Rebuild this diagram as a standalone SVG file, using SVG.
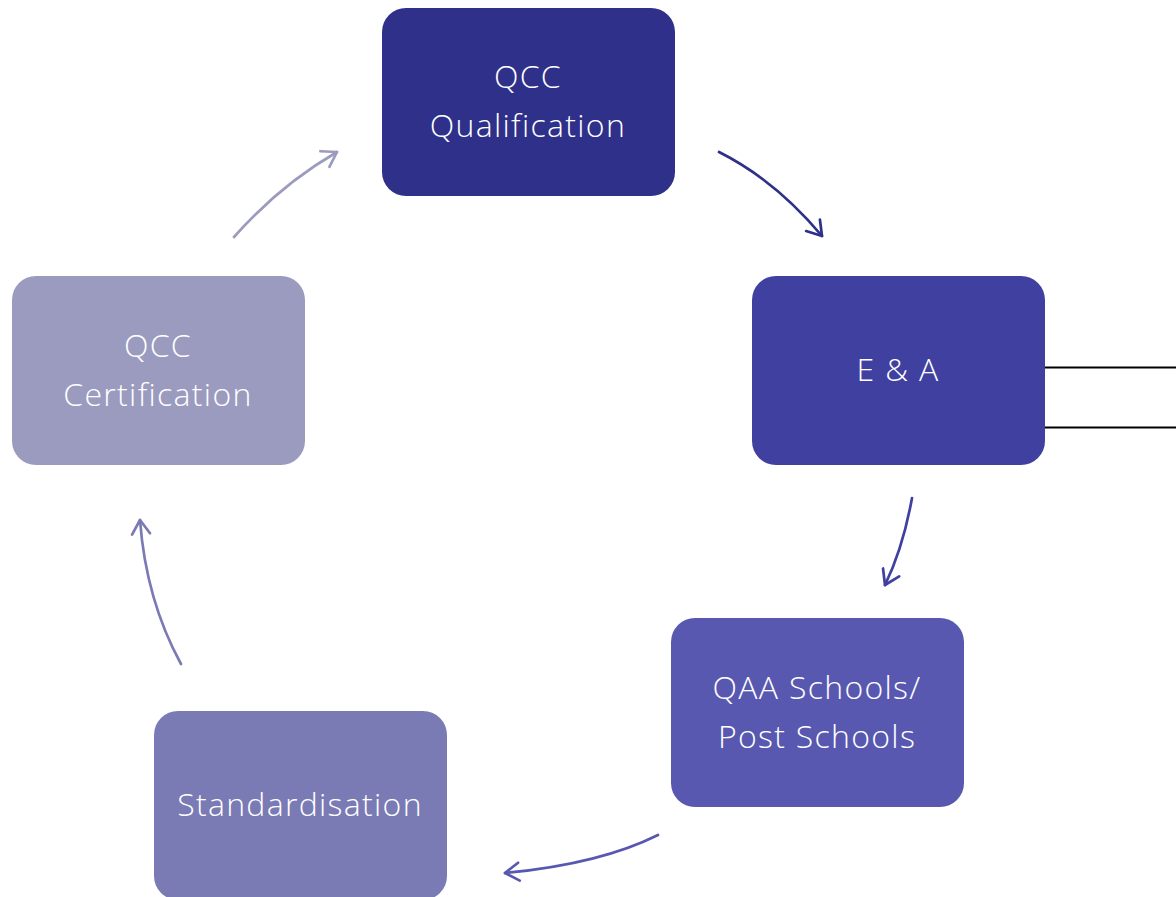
<svg xmlns="http://www.w3.org/2000/svg" width="1176" height="897" viewBox="0 0 1176 897">
  <style>
    .box { stroke: none; }
    .label { font-family: "Open Sans", "DejaVu Sans", sans-serif; font-size: 32px; font-weight: 300; letter-spacing: 1.3px; fill: #ffffff; text-anchor: middle; }
    .arc { fill: none; stroke-width: 2.7; stroke-linecap: round; }
    .head { fill: none; stroke-width: 2.7; stroke-linecap: round; stroke-linejoin: round; }
  </style>
  <defs>
    <marker id="h1" markerUnits="userSpaceOnUse" markerWidth="30" markerHeight="30" viewBox="-20 -15 30 30" refX="0" refY="0" orient="auto"><path class="head" stroke="#2E3089" d="M-14,-9 L0,0 L-14,9"/></marker>
    <marker id="h2" markerUnits="userSpaceOnUse" markerWidth="30" markerHeight="30" viewBox="-20 -15 30 30" refX="0" refY="0" orient="auto"><path class="head" stroke="#3F40A0" d="M-14,-9 L0,0 L-14,9"/></marker>
    <marker id="h3" markerUnits="userSpaceOnUse" markerWidth="30" markerHeight="30" viewBox="-20 -15 30 30" refX="0" refY="0" orient="auto"><path class="head" stroke="#5858B0" d="M-14,-9 L0,0 L-14,9"/></marker>
    <marker id="h4" markerUnits="userSpaceOnUse" markerWidth="30" markerHeight="30" viewBox="-20 -15 30 30" refX="0" refY="0" orient="auto"><path class="head" stroke="#7A7AB5" d="M-14,-9 L0,0 L-14,9"/></marker>
    <marker id="h5" markerUnits="userSpaceOnUse" markerWidth="30" markerHeight="30" viewBox="-20 -15 30 30" refX="0" refY="0" orient="auto"><path class="head" stroke="#9B9BBF" d="M-14,-9 L0,0 L-14,9"/></marker>
  </defs>
  <rect width="1176" height="897" fill="#ffffff"/>

  <g id="connectors">
    <path class="arc" stroke="#2E3089" d="M719,152 Q775,180 822,236" marker-end="url(#h1)"/>
    <path class="arc" stroke="#3F40A0" d="M912,498 Q903,548 885,585" marker-end="url(#h2)"/>
    <path class="arc" stroke="#5858B0" d="M658,835 Q600,864 505,873" marker-end="url(#h3)"/>
    <path class="arc" stroke="#7A7AB5" d="M181,664 Q146,600 140,520" marker-end="url(#h4)"/>
    <path class="arc" stroke="#9B9BBF" d="M234,237 Q280,185 337,152" marker-end="url(#h5)"/>
    <line x1="1040" y1="367.5" x2="1176" y2="367.5" stroke="#000000" stroke-width="2"/>
    <line x1="1040" y1="427.5" x2="1176" y2="427.5" stroke="#000000" stroke-width="2"/>
  </g>

  <g id="node-qualification">
    <rect class="box" x="382" y="8" width="293" height="188" rx="24" fill="#2E3089"/>
    <text class="label" x="528" y="88">QCC</text>
    <text class="label" x="528" y="137">Qualification</text>
  </g>
  <g id="node-ea">
    <rect class="box" x="752" y="276" width="293" height="189" rx="24" fill="#3F40A0"/>
    <text class="label" x="898" y="381">E &amp; A</text>
  </g>
  <g id="node-qaa">
    <rect class="box" x="671" y="618" width="293" height="189" rx="24" fill="#5858B0"/>
    <text class="label" x="817" y="699">QAA Schools/</text>
    <text class="label" x="817" y="748">Post Schools</text>
  </g>
  <g id="node-standardisation">
    <rect class="box" x="154" y="711" width="293" height="189" rx="24" fill="#7A7AB5"/>
    <text class="label" x="300" y="816">Standardisation</text>
  </g>
  <g id="node-certification">
    <rect class="box" x="12" y="276" width="293" height="189" rx="24" fill="#9B9BBF"/>
    <text class="label" x="158" y="357">QCC</text>
    <text class="label" x="158" y="406">Certification</text>
  </g>
</svg>
